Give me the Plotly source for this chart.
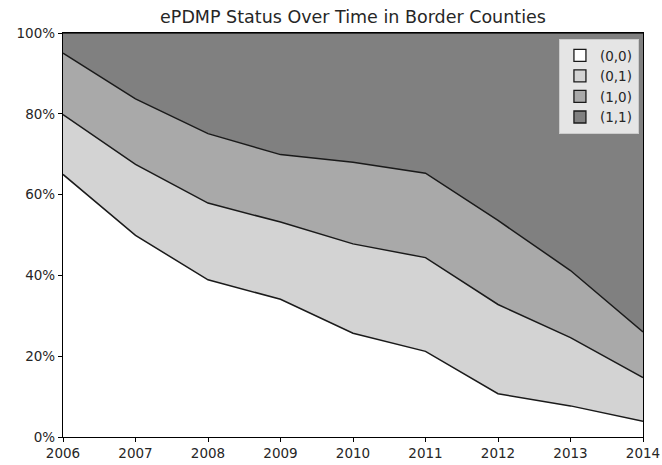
import plotly.graph_objects as go

years = [2006, 2007, 2008, 2009, 2010, 2011, 2012, 2013, 2014]
s00 = [65.0, 49.9, 38.9, 34.1, 25.7, 21.2, 10.7, 7.7, 3.9]
s01 = [14.8, 17.6, 19.0, 19.1, 22.1, 23.2, 22.1, 16.9, 10.8]
s10 = [15.2, 16.2, 17.2, 16.7, 20.2, 20.9, 20.8, 16.6, 11.3]
s11 = [round(100 - a - b - c, 1) for a, b, c in zip(s00, s01, s10)]
names = ["(0,0)", "(0,1)", "(1,0)", "(1,1)"]
colors = ["#ffffff", "#d3d3d3", "#a9a9a9", "#808080"]
yticks = [0, 20, 40, 60, 80, 100]
yticktext = [f"{v}%" for v in yticks]

fig = go.Figure()
for name, vals, col in zip(names, [s00, s01, s10, s11], colors):
    fig.add_trace(go.Scatter(
        x=years, y=vals, name=name, mode="lines", stackgroup="one",
        line=dict(color="#1a1a1a", width=1.5), fillcolor=col, showlegend=False,
        hoverinfo="skip",
    ))
# legend entries (box symbols)
for name, col in zip(names, colors):
    fig.add_trace(go.Bar(
        x=[None], y=[None], name=name,
        marker=dict(color=col, line=dict(color="#1a1a1a", width=1.3)), showlegend=True,
    ))

fig.update_layout(
    width=662, height=465,
    margin=dict(l=63, r=19, t=33, b=28, autoexpand=False),
    paper_bgcolor="white", plot_bgcolor="white",
    font=dict(family="DejaVu Sans", size=13.5, color="#262626"),
    title=dict(text="ePDMP Status Over Time in Border Counties", x=0.5, xref="paper",
               xanchor="center", y=0.963, yref="container", yanchor="middle",
               font=dict(size=17.5, color="#262626")),
    showlegend=True,
    legend=dict(x=0.993, y=0.985, xanchor="right", yanchor="top",
                bgcolor="rgba(229,229,229,1)", bordercolor="#cccccc", borderwidth=1,
                traceorder="normal", font=dict(size=13.5), itemwidth=30,
                tracegroupgap=0),
    xaxis=dict(range=[2006, 2014], tickmode="array", tickvals=years,
               ticks="outside", ticklen=4, tickcolor="#000", showgrid=False, automargin=False,
               zeroline=False, showline=True, linecolor="#000", linewidth=1.3, mirror=True),
    yaxis=dict(range=[0, 100], tickmode="array", tickvals=yticks, ticktext=yticktext,
               ticks="outside", ticklen=4, tickcolor="#000", showgrid=False, automargin=False,
               zeroline=False, showline=True, linecolor="#000", linewidth=1.3, mirror=True),
)

fig.write_html("out.html", config={"displayModeBar": False},
               post_script="document.body.style.margin='0';")
